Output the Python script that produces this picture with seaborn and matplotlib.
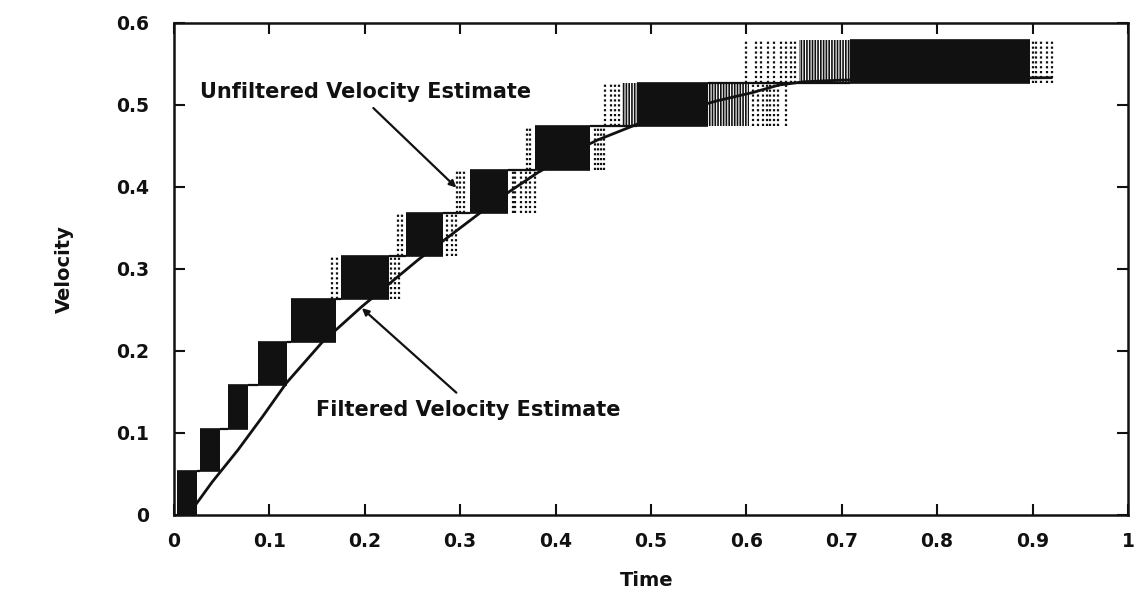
import matplotlib
matplotlib.use("Agg")
import matplotlib.pyplot as plt
import seaborn as sns
import numpy as np

# ---------------- data ----------------
# quantisation levels of the unfiltered estimate (lower / upper level of each band)
band_lo = [0.000, 0.053, 0.105, 0.158, 0.211, 0.263, 0.316, 0.368, 0.421, 0.474, 0.526]
band_hi = [0.053, 0.105, 0.158, 0.211, 0.263, 0.316, 0.368, 0.421, 0.474, 0.526, 0.579]
# time span where the estimate toggles densely between the two levels
dense_t0 = [0.003, 0.027, 0.057, 0.088, 0.123, 0.175, 0.243, 0.310, 0.378, 0.485, 0.709]
dense_t1 = [0.024, 0.048, 0.078, 0.119, 0.170, 0.225, 0.282, 0.350, 0.436, 0.560, 0.897]
# moderately dense toggling (band index, t0, t1)
semi_band = [9, 9, 10]
semi_t0 = [0.470, 0.560, 0.655]
semi_t1 = [0.485, 0.603, 0.709]
# isolated toggles (band index, time)
sparse_band = ([5] * 5 + [6] * 5 + [7] * 9 + [8] * 6 + [9] * 12 + [10] * 15)
sparse_t = [0.166, 0.171, 0.228, 0.232, 0.236,
            0.235, 0.239, 0.286, 0.291, 0.296,
            0.297, 0.300, 0.304, 0.355, 0.358, 0.364, 0.369, 0.373, 0.378,
            0.370, 0.373, 0.441, 0.444, 0.448, 0.451,
            0.452, 0.458, 0.462, 0.467,
            0.607, 0.612, 0.617, 0.622, 0.625, 0.629, 0.633, 0.642,
            0.600, 0.610, 0.615, 0.623, 0.629, 0.636, 0.642, 0.647, 0.651,
            0.900, 0.904, 0.909, 0.915, 0.920]

# filtered velocity estimate
filt_t = [0.015, 0.040, 0.067, 0.093, 0.118, 0.155, 0.197, 0.256, 0.298, 0.340,
          0.381, 0.423, 0.444, 0.485, 0.530, 0.570, 0.607, 0.634, 0.660, 0.700,
          0.800, 0.920]
filt_v = [0.000, 0.040, 0.079, 0.120, 0.161, 0.210, 0.254, 0.311, 0.348, 0.385,
          0.417, 0.445, 0.457, 0.476, 0.492, 0.505, 0.515, 0.524, 0.528, 0.530,
          0.532, 0.533]

x_ticks = [0, 0.1, 0.2, 0.3, 0.4, 0.5, 0.6, 0.7, 0.8, 0.9, 1]
x_ticklabels = ["0", "0.1", "0.2", "0.3", "0.4", "0.5", "0.6", "0.7", "0.8", "0.9", "1"]
y_ticks = [0, 0.1, 0.2, 0.3, 0.4, 0.5, 0.6]
y_ticklabels = ["0", "0.1", "0.2", "0.3", "0.4", "0.5", "0.6"]

# ---------------- figure ----------------
sns.set_theme(style="ticks")
plt.rcParams["font.family"] = ["DejaVu Sans"]
plt.rcParams["font.weight"] = "bold"
plt.rcParams["hatch.linewidth"] = 1.2

fig = plt.figure(figsize=(11.37, 5.98), dpi=100)
ax = fig.add_axes([0.153, 0.139, 0.839, 0.823])

ink = "#111111"
dot = (0, (1.0, 1.2))

# dense toggling bands
for lo, hi, t0, t1 in zip(band_lo, band_hi, dense_t0, dense_t1):
    ax.fill_between([t0, t1], [lo, lo], [hi, hi], color=ink, lw=0)

# semi-dense bands (vertical hatching)
for b, t0, t1 in zip(semi_band, semi_t0, semi_t1):
    ax.fill_between([t0, t1], [band_lo[b]] * 2, [band_hi[b]] * 2,
                    facecolor="white", edgecolor=ink, hatch="||||||", lw=0)

# isolated toggles as dotted verticals
for b, t in zip(sparse_band, sparse_t):
    ax.vlines(t, band_lo[b], band_hi[b], colors=ink, linestyles=dot, lw=1.6)

# flat level between successive bands
for k in range(len(band_lo) - 1):
    ax.hlines(band_hi[k], dense_t1[k], dense_t0[k + 1], colors=ink, lw=1.6)
for k in range(len(band_lo)):
    ax.hlines([band_lo[k], band_hi[k]], dense_t0[k], dense_t1[k], colors=ink, lw=1.2)

# filtered estimate
sns.lineplot(x=filt_t, y=filt_v, ax=ax, color=ink, lw=2.0, sort=False)

ax.set_xlim(0, 1)
ax.set_ylim(0, 0.6)
ax.set_xticks(x_ticks)
ax.set_xticklabels(x_ticklabels)
ax.set_yticks(y_ticks)
ax.set_yticklabels(y_ticklabels)
ax.tick_params(axis="both", direction="in", length=8, width=1.5,
               top=True, right=True, labelsize=13.5, colors=ink)
ax.tick_params(axis="y", pad=18)
ax.tick_params(axis="x", pad=12)
for lab in ax.get_xticklabels() + ax.get_yticklabels():
    lab.set_fontweight("bold")
for sp in ax.spines.values():
    sp.set_linewidth(1.8)
    sp.set_color(ink)

ax.set_xlabel("Time", fontsize=14, fontweight="bold", color=ink)
ax.set_ylabel("Velocity", fontsize=14, fontweight="bold", color=ink)
ax.xaxis.set_label_coords(0.496, -0.115)
ax.yaxis.set_label_coords(-0.105, 0.5)

# annotations
ax.text(0.027, 0.516, "Unfiltered Velocity Estimate", fontsize=15,
        fontweight="bold", ha="left", va="center", color=ink)
ax.annotate("", xy=(0.296, 0.399), xytext=(0.209, 0.496),
            arrowprops=dict(arrowstyle="-|>", color=ink, lw=1.6,
                            mutation_scale=10, shrinkA=0, shrinkB=0))
ax.text(0.149, 0.128, "Filtered Velocity Estimate", fontsize=15,
        fontweight="bold", ha="left", va="center", color=ink)
ax.annotate("", xy=(0.197, 0.252), xytext=(0.296, 0.149),
            arrowprops=dict(arrowstyle="-|>", color=ink, lw=1.6,
                            mutation_scale=10, shrinkA=0, shrinkB=0))

fig.savefig("out.png", dpi=100, facecolor="white")
